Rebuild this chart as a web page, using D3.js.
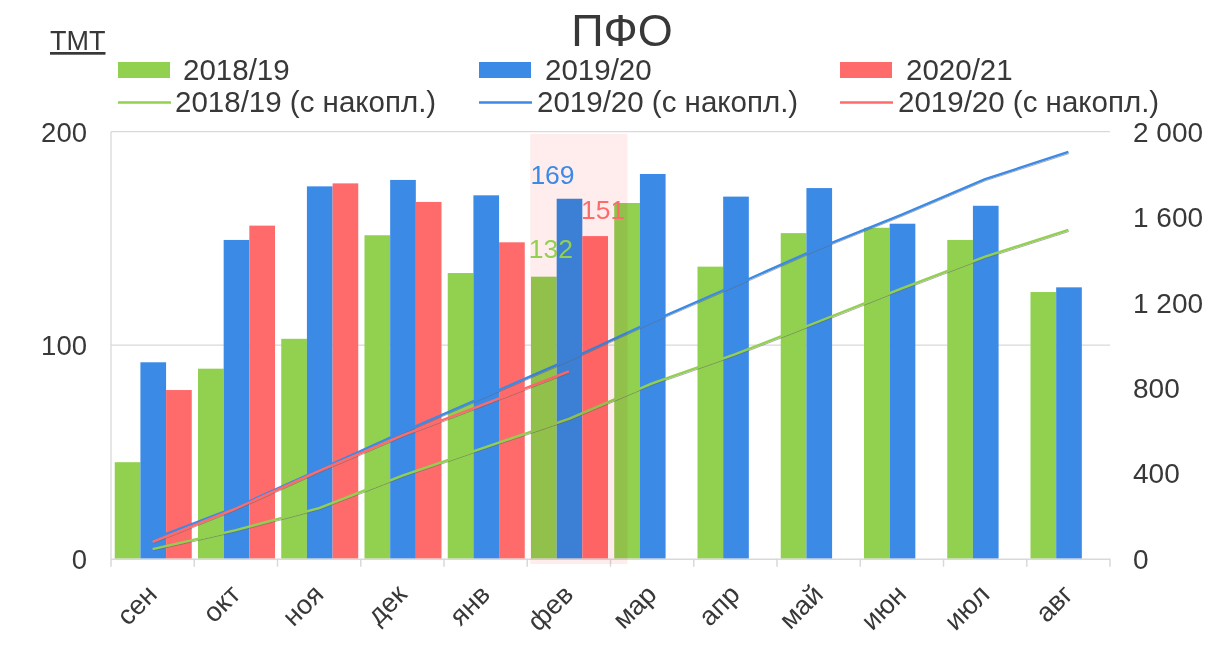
<!DOCTYPE html>
<html><head><meta charset="utf-8">
<script src="https://cdn.jsdelivr.net/npm/d3@7"></script>
<style>body{margin:0;background:#fff} svg{font-family:"Liberation Sans",Arial,Helvetica,sans-serif}</style>
</head><body><svg id="c" width="1229" height="649"></svg>
<script>
const months = ["сен","окт","ноя","дек","янв","фев","мар","апр","май","июн","июл","авг"];
const bars1819 = [45.2,89,103,151.5,133.8,132.1,166.6,136.8,152.5,155,149.3,124.9];
const bars1920 = [92,149.3,174.4,177.4,170.2,168.6,180.2,169.6,173.6,156.9,165.3,127.1];
const bars2021 = [79,156,175.8,167.1,148.2,151.1];
const cum1819 = [45,134,237,389,523,655,821,958,1111,1266,1415,1540];
const cum1920 = [92,241,416,593,763,932,1112,1282,1455,1612,1778,1905];
const cum2021 = [79,235,411,578,726,877];
const leftTicks = [0,100,200];
const rightTicks = [0,400,800,1200,1600,2000];
const barNames = ["2018/19","2019/20","2020/21"];
const lineNames = ["2018/19 (с накопл.)","2019/20 (с накопл.)","2019/20 (с накопл.)"];
const highlightMonth = "фев";
const titleText = "ПФО";
const unitText = "ТМТ";

const colors = ["#92d050","#3b8ae6","#ff6b6b"];
const textColor = "#383838";
const gridColor = "#d9d9d9";

const svg = d3.select("#c");
const L = 111, R = 1110, T = 131.7, B = 558.7;

const x = d3.scaleBand().domain(months).range([L, R]);
const bw = x.bandwidth();
const x1 = d3.scaleBand().domain(barNames).range([bw*0.045, bw*0.97]);
const yL = d3.scaleLinear().domain([0,200]).range([B, T]);
const yR = d3.scaleLinear().domain([0,2000]).range([B, T]);

// gridlines
svg.append("g").selectAll("line").data(leftTicks.filter(d=>d>0)).join("line")
  .attr("x1", L).attr("x2", R).attr("y1", d=>yL(d)).attr("y2", d=>yL(d))
  .attr("stroke", gridColor).attr("stroke-width", 1.3);
// left axis line
svg.append("line").attr("x1", L).attr("x2", L).attr("y1", T).attr("y2", B)
  .attr("stroke", gridColor).attr("stroke-width", 1.3);

// bars
const barSeries = [bars1819, bars1920, bars2021];
barSeries.forEach((vals, si) => {
  svg.append("g").selectAll("rect").data(vals.map((v,i)=>({m:months[i], v}))).join("rect")
    .attr("x", d => x(d.m) + x1(barNames[si]))
    .attr("width", x1.bandwidth())
    .attr("y", d => yL(d.v))
    .attr("height", d => B - yL(d.v))
    .attr("fill", colors[si]);
});

// x axis
const xAxis = svg.append("g");
xAxis.append("line").attr("x1", L).attr("x2", R).attr("y1", B+0.5).attr("y2", B+0.5)
  .attr("stroke", gridColor).attr("stroke-width", 1.5);
xAxis.selectAll("line.tick").data(months.concat(["_end"])).join("line").attr("class","tick")
  .attr("x1", (d,i)=> L + i*bw).attr("x2", (d,i)=> L + i*bw)
  .attr("y1", B).attr("y2", B+8).attr("stroke", gridColor).attr("stroke-width", 1.5);
xAxis.selectAll("text").data(months).join("text")
  .attr("transform", d => `translate(${x(d)+bw/2+6},${596}) rotate(-45)`)
  .attr("text-anchor", "end")
  .attr("font-size", 27).attr("fill", textColor).text(d => d);

// lines
const lineGen = d3.line().x((d,i)=> x(months[i]) + bw/2).y(d => yR(d));
[cum1819, cum1920, cum2021].forEach((vals, si) => {
  svg.append("path").attr("d", lineGen(vals)).attr("fill","none")
    .attr("stroke", "#666").attr("stroke-opacity", 0.55).attr("stroke-width", 1)
    .attr("transform", "translate(0.5,1.6)");
  svg.append("path").attr("d", lineGen(vals)).attr("fill","none")
    .attr("stroke", colors[si]).attr("stroke-width", 2.4).attr("stroke-linejoin","round");
});

// highlight overlay
svg.append("rect")
  .attr("x", x(highlightMonth) + 3).attr("width", bw + 14)
  .attr("y", T + 2.3).attr("height", B - T + 3)
  .attr("fill", "#ffeded").style("mix-blend-mode", "multiply");

// data labels in highlighted month
const hi = months.indexOf(highlightMonth);
const labels = [
  {v: bars1920[hi], c: colors[1], dx: x1(barNames[1]) + x1.bandwidth()/2 - 17, dy: -15},
  {v: bars2021[hi], c: colors[2], dx: x1(barNames[2]) + x1.bandwidth()/2 + 8, dy: -17},
  {v: bars1819[hi], c: colors[0], dx: x1(barNames[0]) + x1.bandwidth()/2 + 7, dy: -19},
];
svg.append("g").selectAll("text").data(labels).join("text")
  .attr("x", d => x(highlightMonth) + d.dx)
  .attr("y", d => yL(d.v) + d.dy)
  .attr("text-anchor", "middle").attr("font-size", 26.5).attr("fill", d => d.c)
  .text(d => Math.round(d.v));

// left axis labels
svg.append("g").selectAll("text").data(leftTicks).join("text")
  .attr("x", 87).attr("y", d => yL(d)).attr("dy", "0.36em")
  .attr("text-anchor", "end").attr("font-size", 27.5).attr("fill", textColor)
  .text(d => d);
// right axis labels
const fmt = d => d3.format(",")(d).replace(/,/g, " ");
svg.append("g").selectAll("text").data(rightTicks).join("text")
  .attr("x", 1133).attr("y", d => yR(d)).attr("dy", "0.36em")
  .attr("text-anchor", "start").attr("font-size", 28).attr("fill", textColor)
  .text(d => fmt(d));

// title
svg.append("text").attr("x", 622).attr("y", 46).attr("text-anchor","middle")
  .attr("font-size", 45).attr("fill", textColor).text(titleText);
svg.append("text").attr("x", 50).attr("y", 50).attr("font-size", 27)
  .attr("fill", textColor).attr("text-decoration","underline").text(unitText);

// legend
const legX = [118, 479, 840];
const legBarTextX = [183, 545, 906];
const legLineTextX = [175, 537, 898];
barNames.forEach((n, i) => {
  svg.append("rect").attr("x", legX[i]).attr("y", 62).attr("width", 52).attr("height", 16).attr("fill", colors[i]);
  svg.append("text").attr("x", legBarTextX[i]).attr("y", 80).attr("font-size", 29.5).attr("fill", textColor).text(n);
});
lineNames.forEach((n, i) => {
  svg.append("line").attr("x1", legX[i]).attr("x2", legX[i]+53).attr("y1", 102.5).attr("y2", 102.5)
    .attr("stroke", colors[i]).attr("stroke-width", 2.4);
  svg.append("text").attr("x", legLineTextX[i]).attr("y", 112).attr("font-size", 29.5).attr("fill", textColor).text(n);
});
</script>
</body></html>
